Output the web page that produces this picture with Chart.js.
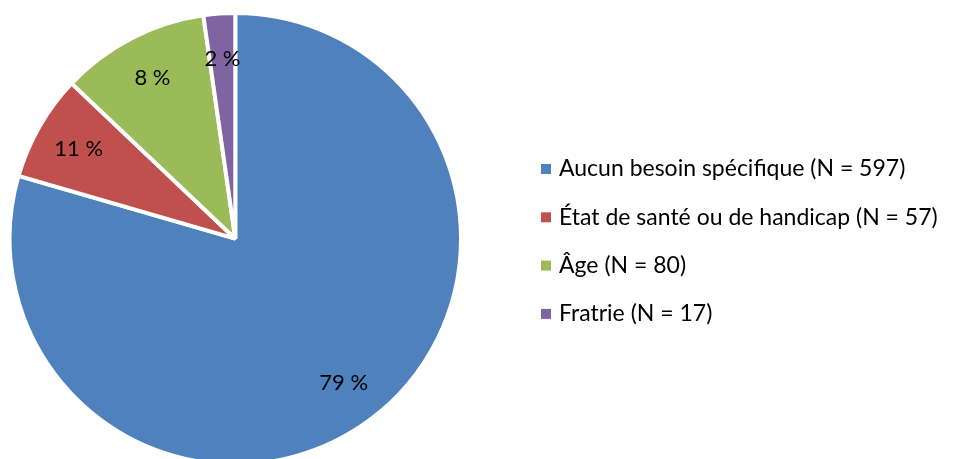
<!DOCTYPE html>
<html>
<head>
<meta charset="utf-8">
<script src="https://cdn.jsdelivr.net/npm/chart.js@4/dist/chart.umd.min.js"></script>
<style>
  html, body { margin: 0; padding: 0; background: #fff; }
  #wrap { width: 960px; height: 459px; position: relative; }
</style>
</head>
<body>
<div id="wrap"><canvas id="myChart"></canvas></div>
<script>
// donnees
const categories = ['Aucun besoin spécifique (N = 597)', 'État de santé ou de handicap (N = 57)', 'Âge (N = 80)', 'Fratrie (N = 17)'];
const effectifs = [597, 57, 80, 17];
const etiquettes = ['79 %', '11 %', '8 %', '2 %'];
const couleurs = ['#4F81BD', '#C0504D', '#9BBB59', '#8064A2'];

const police = 'Lato, "Open Sans", sans-serif';

// etiquettes dans les secteurs
const pluginEtiquettes = {
  id: 'etiquettes',
  afterDatasetsDraw(chart) {
    const ctx = chart.ctx;
    const arcs = chart.getDatasetMeta(0).data;
    ctx.save();
    ctx.font = '22px ' + police;
    ctx.fillStyle = '#000';
    ctx.textAlign = 'center';
    ctx.textBaseline = 'middle';
    arcs.forEach((arc, i) => {
      const p = arc.getProps(['x', 'y', 'startAngle', 'endAngle', 'outerRadius'], true);
      const mid = (p.startAngle + p.endAngle) / 2;
      const r = p.outerRadius * 0.8;
      ctx.fillText(etiquettes[i], p.x + Math.cos(mid) * r, p.y + Math.sin(mid) * r);
    });
    ctx.restore();
  }
};

// legende a droite
const pluginLegende = {
  id: 'legende',
  afterDraw(chart) {
    const ctx = chart.ctx;
    ctx.save();
    ctx.font = '23px ' + police;
    ctx.textBaseline = 'middle';
    categories.forEach((c, i) => {
      const y = 169 + i * 48.3;
      ctx.fillStyle = couleurs[i];
      ctx.fillRect(541, y - 5, 10, 10);
      ctx.fillStyle = '#000';
      ctx.fillText(c, 559, y);
    });
    ctx.restore();
  }
};

function creaGrafico() {
  const ctx = document.getElementById('myChart').getContext('2d');
  new Chart(ctx, {
    type: 'pie',
    data: {
      labels: categories,
      datasets: [{
        data: effectifs,
        backgroundColor: couleurs,
        borderColor: '#fff',
        borderWidth: 4,
        hoverOffset: 0,
        radius: 225.7 // le disque depasse un peu en bas, comme l'original
      }]
    },
    options: {
      responsive: true,
      maintainAspectRatio: false,
      animation: false,
      layout: { padding: { left: 7.6, right: 497, top: 18.4, bottom: 0 } },
      plugins: {
        legend: { display: false },
        tooltip: { enabled: false }
      }
    },
    plugins: [pluginEtiquettes, pluginLegende]
  });
}

creaGrafico();
</script>
</body>
</html>
